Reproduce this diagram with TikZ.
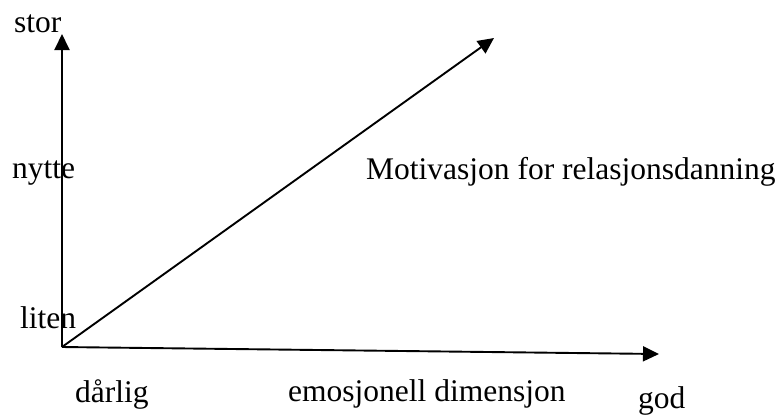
\documentclass[tikz,border=0pt]{standalone}
\usepackage{fontspec}
\setmainfont{Liberation Serif}
\usetikzlibrary{arrows.meta}
\begin{document}
\begin{tikzpicture}[x=1pt,y=-1pt,
  axis/.style={line width=1.9pt,-{Triangle[length=16pt,width=15pt]}},
  lbl/.style={anchor=base west,inner sep=0pt,font=\fontsize{31.5}{37}\selectfont}]
\useasboundingbox (0,0) rectangle (783,416);
\coordinate (O) at (62,347);
\coordinate (ytip) at (62,34);
\coordinate (xtip) at (659,354);
\coordinate (dtip) at (494,38);
\draw[axis] (O) -- (ytip);
\draw[axis] (O) -- (xtip);
\draw[axis] (O) -- (dtip);
\node[lbl] (stor) at (14,32) {stor};
\node[lbl] (nytte) at (12,178) {nytte};
\node[lbl] (liten) at (20,328) {liten};
\node[lbl] (darlig) at (75,402) {dårlig};
\node[lbl] (emo) at (288,401) {emosjonell dimensjon};
\node[lbl] (god) at (638,408) {god};
\node[lbl] (motiv) at (366,179) {Motivasjon for relasjonsdanning};
\end{tikzpicture}
\end{document}
